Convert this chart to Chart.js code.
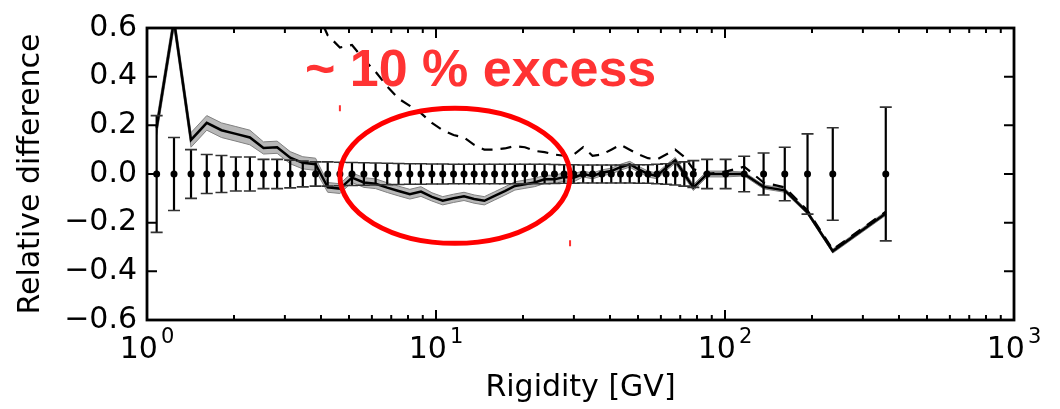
<!DOCTYPE html>
<html>
<head>
<meta charset="utf-8">
<script src="https://cdn.jsdelivr.net/npm/chart.js@4.4.1/dist/chart.umd.min.js"></script>
<style>
  html, body { margin: 0; padding: 0; background: #fff; }
  #wrap { width: 1060px; height: 409px; }
</style>
</head>
<body>
<div id="wrap"><canvas id="grafico" width="1060" height="409"></canvas></div>
<script>
// rigidity bin centres [GV]
const rigidity = [1.08, 1.24, 1.42, 1.61, 1.81, 2.03, 2.27, 2.53, 2.82, 3.13,
  3.46, 3.83, 4.22, 4.65, 5.12, 5.63, 6.18, 6.78, 7.42, 8.12,
  8.87, 9.68, 10.55, 11.5, 12.5, 13.55, 14.7, 15.95, 17.3, 18.75,
  20.3, 21.95, 23.75, 25.7, 27.75, 29.95, 32.3, 34.8, 37.5, 40.4,
  43.5, 46.8, 50.35, 54.15, 58.2, 62.55, 67.25, 72.3, 77.7, 86.7,
  100.5, 116.5, 136, 161, 193, 236, 360];

// relative uncertainty of the data points (symmetric)
const errBar = [0.24, 0.15, 0.10, 0.08, 0.076, 0.07, 0.07, 0.06, 0.06, 0.057,
  0.053, 0.05, 0.05, 0.048, 0.047, 0.046, 0.045, 0.044, 0.043, 0.042,
  0.042, 0.041, 0.041, 0.04, 0.04, 0.04, 0.04, 0.04, 0.04, 0.04,
  0.04, 0.04, 0.04, 0.039, 0.038, 0.038, 0.037, 0.037, 0.037, 0.037,
  0.037, 0.037, 0.038, 0.038, 0.04, 0.042, 0.045, 0.05, 0.055, 0.06,
  0.06, 0.073, 0.086, 0.11, 0.165, 0.19, 0.275];

// model vs data, solid curve
const solidDiff = [0.19, 0.63, 0.14, 0.21, 0.18, 0.165, 0.15, 0.107, 0.11, 0.067,
  0.046, 0.04, -0.055, -0.06, -0.015, -0.035, -0.04, -0.056, -0.07, -0.083,
  -0.072, -0.094, -0.11, -0.10, -0.092, -0.103, -0.11, -0.09, -0.07, -0.049,
  -0.042, -0.035, -0.022, -0.022, -0.012, -0.015, 0.0, -0.008, 0.005, 0.012,
  0.028, 0.04, 0.019, 0.0, -0.008, 0.026, 0.056, 0.0, -0.056, 0.0,
  0.0, 0.0, -0.053, -0.067, -0.158, -0.317, -0.162];

// half width of the grey uncertainty band around the solid curve
const solidBand = [0.03, 0.03, 0.03, 0.03, 0.03, 0.03, 0.03, 0.025, 0.025, 0.025,
  0.025, 0.025, 0.02, 0.02, 0.02, 0.02, 0.02, 0.02, 0.02, 0.02,
  0.02, 0.017, 0.017, 0.017, 0.017, 0.017, 0.017, 0.017, 0.017, 0.017,
  0.017, 0.017, 0.017, 0.017, 0.017, 0.017, 0.012, 0.012, 0.012, 0.012,
  0.012, 0.012, 0.012, 0.012, 0.012, 0.012, 0.012, 0.012, 0.012, 0.012,
  0.012, 0.008, 0.008, 0.008, 0.008, 0.008, 0.008];

// dashed curve (runs off the top below ~4 GV)
const dashedDiff = [null, null, null, null, null, null, null, null, null, null,
  null, 0.68, 0.57, 0.52, 0.53, 0.47, 0.42, 0.36, 0.31, 0.28,
  0.25, 0.21, 0.18, 0.16, 0.15, 0.12, 0.10, 0.10, 0.105, 0.115,
  0.11, 0.095, 0.09, 0.08, 0.075, 0.08, 0.11, 0.075, 0.08, 0.10,
  0.12, 0.10, 0.08, 0.065, 0.06, 0.08, 0.10, 0.07, 0.02, 0.0,
  0.01, 0.03, -0.035, -0.055, -0.15, -0.31, -0.155];

const yTicks = [-0.6, -0.4, -0.2, 0, 0.2, 0.4, 0.6];
const xDecades = [1, 10, 100, 1000];

// "~ 10 % excess" note and the ring around the 5-30 GV dip
const noteText = '~ 10 % excess';
const notePos = { x: 3.52, y: 0.363 };
const ringBox = { x0: 4.65, x1: 29.1, y0: -0.285, y1: 0.27 };

const pts = arr => rigidity.map((r, i) => ({ x: r, y: arr[i] })).filter(p => p.y !== null);

Chart.defaults.font.family = 'DejaVu Sans';
Chart.defaults.color = '#000';

const decor = {
  id: 'decor',
  beforeDatasetDraw(chart, args) {
    if (args.index !== 4) return;
    const { ctx, scales: { x, y } } = chart;
    ctx.save();
    rigidity.forEach((r, i) => {
      const px = x.getPixelForValue(r);
      const top = y.getPixelForValue(errBar[i]);
      const bot = y.getPixelForValue(-errBar[i]);
      ctx.strokeStyle = '#000';
      ctx.lineWidth = 2.2;
      ctx.beginPath();
      ctx.moveTo(px, top);
      ctx.lineTo(px, bot);
      ctx.stroke();
      ctx.strokeStyle = '#333';
      ctx.lineWidth = 1.6;
      ctx.beginPath();
      ctx.moveTo(px - 6, top); ctx.lineTo(px + 6, top);
      ctx.moveTo(px - 6, bot); ctx.lineTo(px + 6, bot);
      ctx.stroke();
    });
    ctx.restore();
  },
  afterDatasetsDraw(chart) {
    const { ctx, scales: { x, y } } = chart;
    ctx.save();
    // red ring
    const l = x.getPixelForValue(ringBox.x0), rgt = x.getPixelForValue(ringBox.x1);
    const t = y.getPixelForValue(ringBox.y1), b = y.getPixelForValue(ringBox.y0);
    ctx.strokeStyle = '#ff0000';
    ctx.lineWidth = 5;
    ctx.beginPath();
    ctx.ellipse((l + rgt) / 2, (t + b) / 2, (rgt - l) / 2, (b - t) / 2, 0, 0, Math.PI * 2);
    ctx.stroke();
    // little handle marks on the ring's box corners
    ctx.lineWidth = 2;
    ctx.strokeStyle = '#ff3030';
    ctx.beginPath();
    ctx.moveTo(l, t - 3); ctx.lineTo(l, t + 3);
    ctx.moveTo(rgt, b - 3); ctx.lineTo(rgt, b + 3);
    ctx.stroke();
    // note
    ctx.fillStyle = '#ff3333';
    ctx.font = 'bold 52px "Liberation Sans", Arial, sans-serif';
    ctx.textBaseline = 'alphabetic';
    ctx.textAlign = 'left';
    ctx.fillText(noteText, x.getPixelForValue(notePos.x), y.getPixelForValue(notePos.y));
    ctx.restore();
  },
  afterDraw(chart) {
    const { ctx, chartArea: a, scales: { x, y } } = chart;
    ctx.save();
    ctx.strokeStyle = '#000';
    // ticks, pointing inward on all four sides
    ctx.lineWidth = 2;
    ctx.beginPath();
    yTicks.forEach(v => {
      const py = y.getPixelForValue(v);
      ctx.moveTo(a.left, py); ctx.lineTo(a.left + 10, py);
      ctx.moveTo(a.right, py); ctx.lineTo(a.right - 10, py);
    });
    xDecades.forEach((d, k) => {
      const px = x.getPixelForValue(d);
      ctx.moveTo(px, a.bottom); ctx.lineTo(px, a.bottom - 10);
      ctx.moveTo(px, a.top); ctx.lineTo(px, a.top + 10);
      if (k < xDecades.length - 1) {
        for (let m = 2; m <= 9; m++) {
          const pm = x.getPixelForValue(d * m);
          ctx.moveTo(pm, a.bottom); ctx.lineTo(pm, a.bottom - 5);
          ctx.moveTo(pm, a.top); ctx.lineTo(pm, a.top + 5);
        }
      }
    });
    ctx.stroke();
    // frame
    ctx.lineWidth = 2.8;
    ctx.strokeRect(a.left, a.top, a.right - a.left, a.bottom - a.top);
    // decade labels 10^n
    ctx.fillStyle = '#000';
    ctx.textBaseline = 'alphabetic';
    ctx.textAlign = 'left';
    xDecades.forEach((d, k) => {
      const px = x.getPixelForValue(d);
      ctx.font = '30px "DejaVu Sans"';
      const wBase = ctx.measureText('10').width;
      ctx.font = '21px "DejaVu Sans"';
      const wExp = ctx.measureText(String(k)).width;
      const x0 = px - (wBase + wExp + 3) / 2;
      ctx.font = '30px "DejaVu Sans"';
      ctx.fillText('10', x0, a.bottom + 38);
      ctx.font = '21px "DejaVu Sans"';
      ctx.fillText(String(k), x0 + wBase + 3, a.bottom + 23);
    });
    ctx.restore();
  }
};

const ctx = document.getElementById('grafico').getContext('2d');

new Chart(ctx, {
  type: 'line',
  data: {
    datasets: [
      {
        label: 'band upper',
        data: pts(rigidity.map((r, i) => solidDiff[i] + solidBand[i])),
        borderColor: '#808080',
        borderWidth: 1,
        backgroundColor: '#b8b8b8',
        pointRadius: 0,
        fill: '+1',
        order: 5
      },
      {
        label: 'band lower',
        data: pts(rigidity.map((r, i) => solidDiff[i] - solidBand[i])),
        borderColor: '#808080',
        borderWidth: 1,
        pointRadius: 0,
        fill: false,
        order: 4
      },
      {
        label: 'solid',
        data: pts(solidDiff),
        borderColor: '#000',
        borderWidth: 2.5,
        pointRadius: 0,
        fill: false,
        order: 3
      },
      {
        label: 'dashed',
        data: pts(dashedDiff),
        borderColor: '#000',
        borderWidth: 2.2,
        borderDash: [11, 8],
        pointRadius: 0,
        fill: false,
        order: 2
      },
      {
        label: 'data',
        data: pts(rigidity.map(() => 0)),
        showLine: false,
        pointRadius: 3.5,
        pointBackgroundColor: '#000',
        pointBorderWidth: 0,
        borderColor: '#000',
        order: 1
      }
    ]
  },
  options: {
    responsive: false,
    animation: false,
    layout: { padding: { left: 0, right: 46, top: 26, bottom: 0 } },
    plugins: { legend: { display: false }, tooltip: { enabled: false } },
    scales: {
      x: {
        type: 'logarithmic',
        min: 1,
        max: 1000,
        grid: { display: false, drawTicks: false },
        border: { display: false },
        ticks: { display: false },
        title: {
          display: true,
          text: 'Rigidity [GV]',
          font: { family: 'DejaVu Sans', size: 30 },
          color: '#000',
          padding: { top: 3, bottom: 3 }
        },
        afterFit: s => { s.height = 89; }
      },
      y: {
        min: -0.6,
        max: 0.6,
        grid: { display: false, drawTicks: false },
        border: { display: false },
        ticks: {
          stepSize: 0.2,
          padding: 10,
          font: { family: 'DejaVu Sans', size: 30 },
          color: '#000',
          callback: v => (Math.abs(v) < 1e-9 ? 0 : v).toFixed(1).replace('-', '\u2212')
        },
        title: {
          display: true,
          text: 'Relative difference',
          font: { family: 'DejaVu Sans', size: 30 },
          color: '#000',
          padding: { top: 13, bottom: 13 }
        },
        afterFit: s => { s.width = 147; }
      }
    }
  },
  plugins: [decor]
});
</script>
</body>
</html>
